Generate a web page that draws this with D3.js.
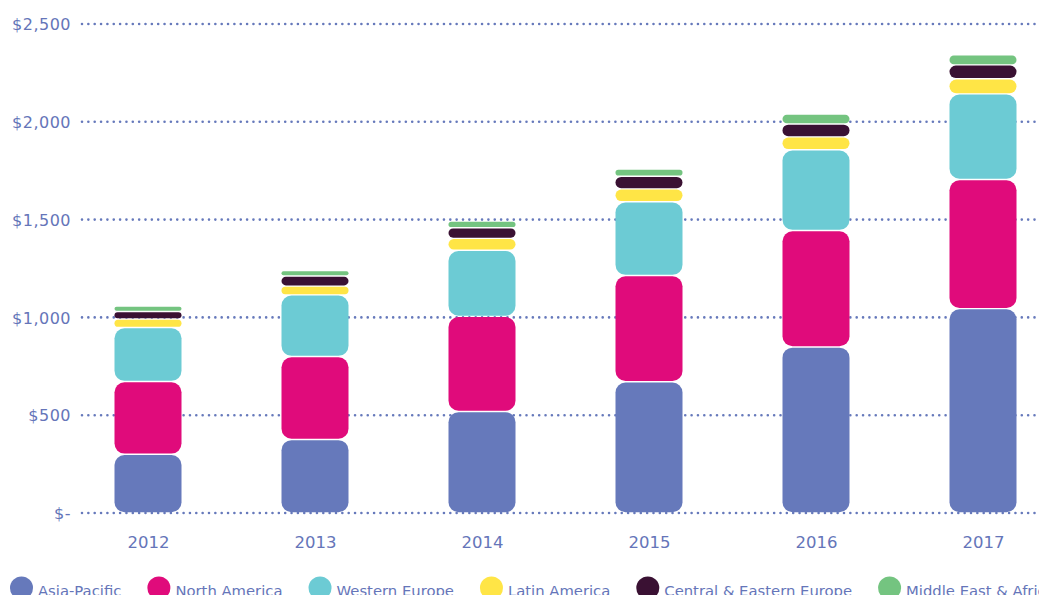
<!DOCTYPE html>
<html>
<head>
<meta charset="utf-8">
<script src="https://cdn.jsdelivr.net/npm/d3@7"></script>
<style>
  html, body { margin: 0; padding: 0; background: #ffffff; overflow: hidden; }
  svg { display: block; }
  text { font-family: "DejaVu Sans", sans-serif; fill: #6575b9; }
</style>
</head>
<body>
<svg id="chart" width="1039" height="595"></svg>
<script>
const years = ["2012", "2013", "2014", "2015", "2016", "2017"];
const seriesNames = ["Asia-Pacific", "North America", "Western Europe", "Latin America", "Central & Eastern Europe", "Middle East & Africa"];
const asiaPacific        = [300, 376, 519, 671, 849, 1045];
const northAmerica       = [372, 424, 486, 543, 595, 660];
const westernEurope      = [276, 315, 338, 377, 413, 438];
const latinAmerica       = [44, 45, 61, 66, 66, 77];
const centralEastEurope  = [38, 52, 54, 65, 66, 71];
const middleEastAfrica   = [28, 27, 35, 36, 51, 51];
const colors = ["#6679bb", "#e00b7b", "#6ccbd4", "#ffe546", "#3a1133", "#74c480"];
const yTicks = [0, 500, 1000, 1500, 2000, 2500];
const yTickLabels = ["$-", "$500", "$1,000", "$1,500", "$2,000", "$2,500"];

const seriesValues = [asiaPacific, northAmerica, westernEurope, latinAmerica, centralEastEurope, middleEastAfrica];
const table = years.map((yr, i) => {
  const row = { year: yr };
  seriesNames.forEach((s, k) => row[s] = seriesValues[k][i]);
  return row;
});

const svg = d3.select("#chart");
const y = d3.scaleLinear().domain([0, 2500]).range([513, 24]);
const x = d3.scalePoint().domain(years).range([148, 983]);
const barW = 67;

// gridlines
const gridColor = "#6679bb";
svg.append("g").selectAll("line").data(yTicks).join("line")
  .attr("x1", 82).attr("x2", 1039)
  .attr("y1", d => y(d)).attr("y2", d => y(d))
  .attr("stroke", gridColor).attr("stroke-width", 2.6)
  .attr("stroke-linecap", "round")
  .attr("stroke-dasharray", "0 6.35");

// y labels via axis
const yAxis = d3.axisLeft(y).tickValues(yTicks).tickSize(0).tickPadding(0)
  .tickFormat((d, i) => yTickLabels[i]);
const gy = svg.append("g").attr("transform", "translate(71,0)").call(yAxis);
gy.select(".domain").remove();
gy.selectAll("text").style("font-size", "16px").attr("letter-spacing", "0.5px")
  .attr("fill", "#6575b9").attr("dy", "0.36em");

// x labels via axis
const xAxis = d3.axisBottom(x).tickSize(0).tickPadding(0);
const gx = svg.append("g").attr("transform", "translate(0,532)").call(xAxis);
gx.select(".domain").remove();
gx.selectAll("text").style("font-size", "16.5px").attr("fill", "#6575b9").attr("dy", "0.95em");

// stacked bars
const stack = d3.stack().keys(seriesNames);
const stacked = stack(table);
const gap = 0.7;
svg.append("g").selectAll("g").data(stacked).join("g")
  .attr("fill", (d, i) => colors[i])
  .selectAll("rect").data(d => d).join("rect")
  .attr("x", d => x(d.data.year) - barW / 2)
  .attr("width", barW)
  .attr("y", d => y(d[1]) + gap)
  .attr("height", d => Math.max(0, y(d[0]) - y(d[1]) - 2 * gap))
  .attr("rx", d => Math.min(10, (y(d[0]) - y(d[1]) - 2 * gap) / 2))
  .attr("ry", d => Math.min(10, (y(d[0]) - y(d[1]) - 2 * gap) / 2));

// legend
const legend = svg.append("g");
let cursor = 10;
seriesNames.forEach((name, i) => {
  const g = legend.append("g");
  g.append("circle").attr("cx", cursor + 11.5).attr("cy", 588).attr("r", 11.5).attr("fill", colors[i]);
  const t = g.append("text").attr("x", cursor + 28).attr("y", 596)
    .style("font-size", "14.8px").attr("fill", "#6575b9").text(name);
  cursor = cursor + 28 + t.node().getComputedTextLength() + 26;
});
</script>
</body>
</html>
